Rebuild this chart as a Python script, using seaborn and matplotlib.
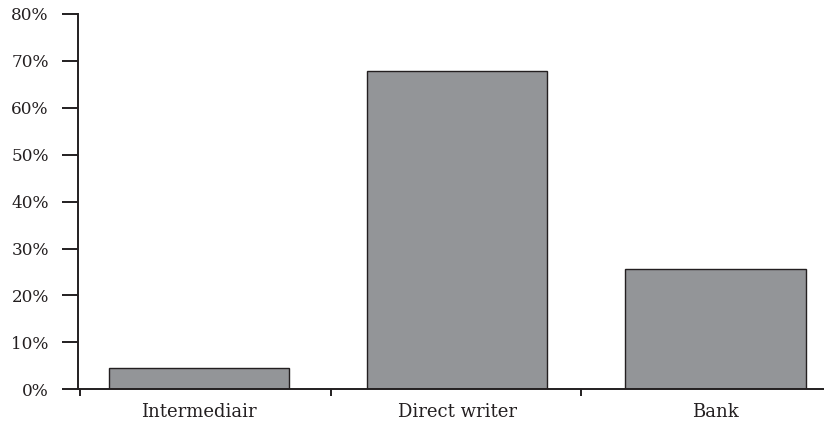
import matplotlib
matplotlib.use("Agg")
import matplotlib.pyplot as plt
import seaborn as sns

categories = ["Intermediair", "Direct writer", "Bank"]
shares = [4.6, 67.9, 25.7]
y_ticks = [0, 10, 20, 30, 40, 50, 60, 70, 80]
y_labels = ["0%", "10%", "20%", "30%", "40%", "50%", "60%", "70%", "80%"]

sns.set_style("ticks")
plt.rcParams["font.family"] = ["DejaVu Serif"]
ink = "#231f20"

fig = plt.figure(figsize=(8.24, 4.23), dpi=100)
ax = fig.add_axes([0.0947, 0.0797, 0.9053, 0.8873])

sns.barplot(x=categories, y=shares, color="#939598", saturation=1,
            width=0.7, edgecolor=ink, linewidth=1.0, ax=ax)

ax.set_ylim(0, 80)
ax.set_xlim(-0.468, 2.421)
ax.set_yticks(y_ticks)
ax.set_yticklabels(y_labels, fontsize=12.2, color=ink)
ax.tick_params(axis="y", direction="out", length=11.5, width=1.4, color=ink, pad=9.5)

# category labels without ticks, separator ticks between categories
ax.set_xticks([0, 1, 2])
ax.set_xticklabels(categories, fontsize=13, color=ink)
ax.tick_params(axis="x", which="major", length=0, pad=10)
ax.set_xticks([-0.462, 0.51, 1.48], minor=True)
ax.tick_params(axis="x", which="minor", direction="out", length=5, width=1.4, color=ink)

for side in ["top", "right"]:
    ax.spines[side].set_visible(False)
for side in ["left", "bottom"]:
    ax.spines[side].set_linewidth(1.4)
    ax.spines[side].set_color(ink)
ax.set_xlabel("")
ax.set_ylabel("")

fig.savefig("out.png", dpi=100)
